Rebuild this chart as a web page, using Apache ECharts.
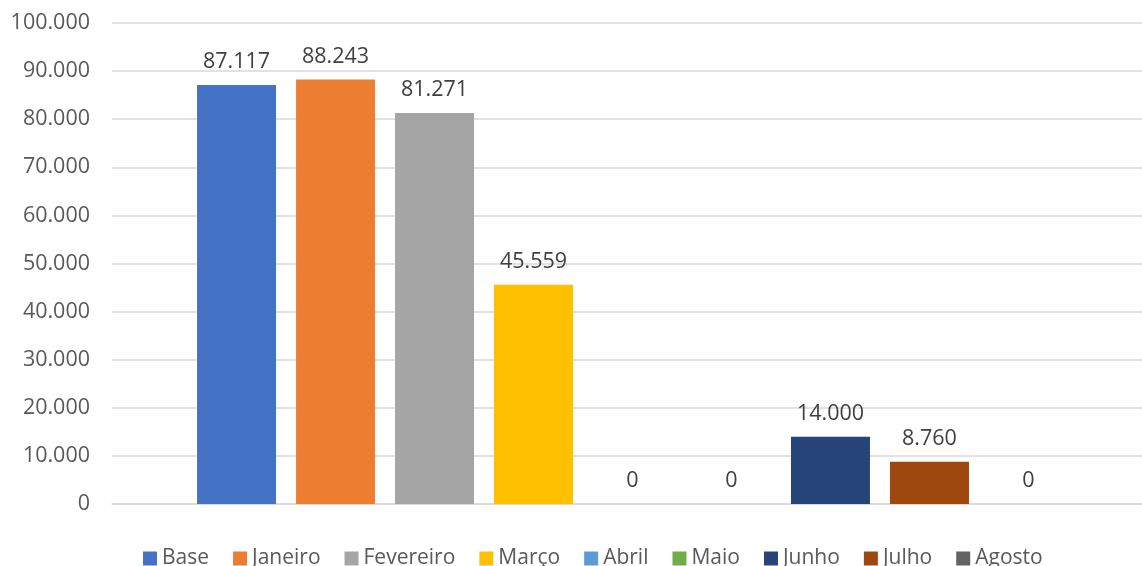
<!DOCTYPE html>
<html>
<head>
<meta charset="utf-8">
<script src="https://cdn.jsdelivr.net/npm/echarts@6/dist/echarts.min.js"></script>
<style>
html,body{margin:0;padding:0;background:#fff;}
#chart{width:1142px;height:566px;}
</style>
</head>
<body>
<div id="chart"></div>
<script>
const seriesNames = ["Base","Janeiro","Fevereiro","Março","Abril","Maio","Junho","Julho","Agosto"];
const seriesValues = [87117, 88243, 81271, 45559, 0, 0, 14000, 8760, 0];
const seriesColors = ["#4472C4","#ED7D31","#A5A5A5","#FFC000","#5B9BD5","#70AD47","#264478","#9E480E","#636363"];
const categories = [""];
const yMin = 0, yMax = 100000, yStep = 10000;

function fmt(v){
  const s = Math.round(v).toString();
  return s.replace(/\B(?=(\d{3})+(?!\d))/g, ".");
}

const FONT = "'Open Sans', sans-serif";

const chart = echarts.init(document.getElementById('chart'), null, {renderer:'canvas'});
const series = seriesNames.map((name, i) => ({
  name: name,
  type: 'bar',
  xAxisIndex: 1,
  yAxisIndex: 1,
  data: [seriesValues[i]],
  barWidth: 79,
  barGap: '25.3%',
  itemStyle: {color: seriesColors[i]},
  label: {
    show: true,
    position: 'top',
    distance: 12,
    color: '#404040',
    fontFamily: FONT,
    fontSize: 21.5,
    formatter: p => fmt(p.value)
  }
}));

chart.setOption({
  animation: false,
  backgroundColor: '#ffffff',
  grid: [
    {left: 112, right: 0, top: 23, bottom: 62, containLabel: false},
    {left: 123, right: 0, top: 23, bottom: 62, containLabel: false}
  ],
  legend: {
    bottom: -8,
    left: 138,
    itemWidth: 14,
    itemHeight: 14,
    itemGap: 24,
    icon: 'rect',
    textStyle: {color: '#595959', fontFamily: FONT, fontSize: 21},
    data: seriesNames
  },
  xAxis: [
    {
      type: 'category',
      gridIndex: 0,
      data: categories,
      axisLine: {show: true, lineStyle: {color: '#d9d9d9', width: 1.5}},
      axisTick: {show: false},
      axisLabel: {show: false}
    },
    {
      type: 'category',
      gridIndex: 1,
      data: categories,
      axisLine: {show: false},
      axisTick: {show: false},
      axisLabel: {show: false}
    }
  ],
  yAxis: [
    {
      type: 'value',
      gridIndex: 0,
      min: yMin,
      max: yMax,
      interval: yStep,
      axisLine: {show: false},
      axisTick: {show: false},
      splitLine: {lineStyle: {color: '#d9d9d9', width: 1.5}},
      axisLabel: {
        color: '#595959',
        fontFamily: FONT,
        fontSize: 21.5,
        margin: 22,
        formatter: v => fmt(v)
      }
    },
    {
      type: 'value',
      gridIndex: 1,
      min: yMin,
      max: yMax,
      interval: yStep,
      show: false,
      splitLine: {show: false}
    }
  ],
  series: series
});
</script>
</body>
</html>
